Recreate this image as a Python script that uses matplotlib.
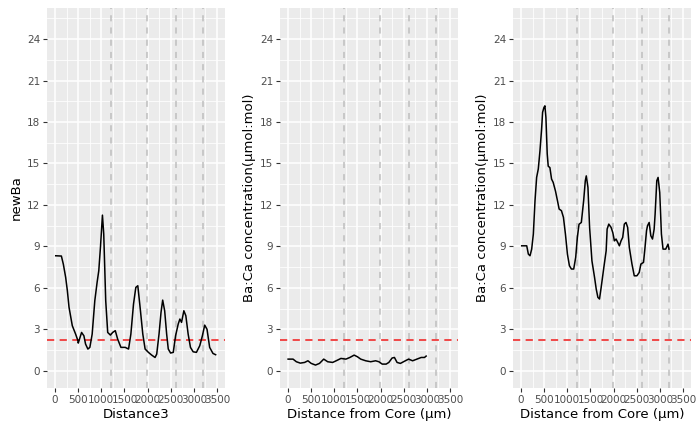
import matplotlib
matplotlib.use('Agg')
import matplotlib.pyplot as plt
import numpy as np

# panel 1: Distance3 vs newBa
d1 = [14, 136, 179, 229, 265, 301, 372, 444, 494, 501, 573, 623, 659, 709, 752, 802, 859, 909, 945,
      981, 1024, 1052, 1095, 1138, 1196, 1245, 1302, 1353, 1424, 1517, 1589, 1639, 1696, 1746, 1789,
      1839, 1897, 1947, 2018, 2090, 2162, 2198, 2248, 2291, 2327, 2370, 2413, 2448, 2498, 2556, 2606,
      2663, 2699, 2735, 2785, 2828, 2878, 2928, 2986, 3057, 3129, 3186, 3236, 3286, 3343, 3415, 3472]
ba1 = [8.32, 8.3, 7.7, 6.75, 5.8, 4.6, 3.26, 2.65, 2.17, 2.0, 2.77, 2.53, 1.93, 1.57, 1.69, 2.65, 5.07,
       6.4, 7.24, 8.92, 11.26, 9.9, 5.07, 2.77, 2.58, 2.77, 2.9, 2.29, 1.69, 1.69, 1.57, 2.65, 4.82, 6.03,
       6.15, 4.58, 2.65, 1.57, 1.33, 1.13, 0.96, 1.2, 2.65, 4.22, 5.11, 4.34, 2.65, 1.57, 1.28, 1.33,
       2.53, 3.38, 3.74, 3.5, 4.34, 3.98, 2.65, 1.69, 1.37, 1.33, 1.81, 2.53, 3.3, 3.0, 1.69, 1.25, 1.16]

# panel 2
d2 = [0, 107, 179, 264, 357, 429, 500, 593, 679, 771, 857, 964, 1071, 1143, 1250, 1336, 1429, 1500,
      1571, 1679, 1786, 1893, 1964, 2036, 2121, 2179, 2250, 2300, 2357, 2429, 2536, 2607, 2693, 2786,
      2879, 2950, 2986]
ba2 = [0.84, 0.84, 0.65, 0.55, 0.6, 0.72, 0.53, 0.41, 0.53, 0.84, 0.65, 0.6, 0.77, 0.89, 0.84, 0.96,
       1.13, 1.01, 0.84, 0.72, 0.65, 0.72, 0.65, 0.48, 0.48, 0.6, 0.92, 0.96, 0.6, 0.53, 0.72, 0.84,
       0.72, 0.84, 0.96, 0.96, 1.06]

# panel 3
d3 = [14, 122, 157, 193, 229, 265, 301, 336, 372, 408, 444, 465, 494, 515, 537, 565, 587, 623, 659,
      694, 744, 787, 823, 873, 916, 959, 1002, 1045, 1088, 1138, 1181, 1217, 1253, 1303, 1353, 1389,
      1410, 1446, 1482, 1532, 1589, 1625, 1661, 1696, 1732, 1790, 1840, 1861, 1897, 1947, 1983, 2019,
      2054, 2090, 2126, 2162, 2198, 2233, 2269, 2305, 2341, 2398, 2448, 2505, 2555, 2591, 2648, 2677,
      2713, 2734, 2770, 2806, 2842, 2878, 2899, 2935, 2963, 2999, 3035, 3070, 3128, 3178, 3199]
ba3 = [9.04, 9.04, 8.44, 8.32, 8.8, 9.89, 12.3, 13.99, 14.6, 15.9, 17.5, 18.7, 19.05, 19.17, 18.33,
       15.7, 14.8, 14.7, 13.87, 13.63, 13.0, 12.3, 11.7, 11.58, 11.1, 9.89, 8.44, 7.6, 7.36, 7.36, 8.2,
       9.65, 10.6, 10.73, 12.3, 13.75, 14.1, 13.27, 10.37, 7.96, 6.75, 5.91, 5.31, 5.19, 6.03, 7.48,
       8.68, 10.25, 10.61, 10.37, 10.0, 9.4, 9.53, 9.29, 9.04, 9.4, 9.65, 10.61, 10.73, 10.37, 8.92,
       7.72, 6.87, 6.87, 7.11, 7.72, 7.84, 8.8, 10.13, 10.49, 10.73, 9.77, 9.53, 10.25, 11.34, 13.75,
       13.99, 12.9, 9.89, 8.8, 8.8, 9.16, 8.8]

vlines = [1200, 1980, 2620, 3200]
threshold = 2.25
xlabels = ['Distance3', 'Distance from Core (\u03bcm)', 'Distance from Core (\u03bcm)']
ylabels = ['newBa', 'Ba:Ca concentration(\u03bcmol:mol)', 'Ba:Ca concentration(\u03bcmol:mol)']

fig = plt.figure(figsize=(7, 4.32), dpi=100)
lefts = [47, 280, 513]
series = [(d1, ba1), (d2, ba2), (d3, ba3)]

for i, (x, y) in enumerate(series):
    ax = fig.add_axes([lefts[i] / 700, 44 / 432, 178 / 700, 380 / 432])
    ax.set_facecolor('#EBEBEB')
    ax.set_xlim(-175, 3675)
    ax.set_ylim(-1.25, 26.25)
    ax.set_xticks(np.arange(0, 3501, 500))
    ax.set_yticks(np.arange(0, 25, 3))
    ax.set_xticks(np.arange(250, 3600, 500), minor=True)
    ax.set_yticks(np.arange(1.5, 26, 3), minor=True)
    ax.grid(which='major', color='white', linewidth=1.1)
    ax.grid(which='minor', color='white', linewidth=0.55)
    ax.set_axisbelow(True)
    for s in ax.spines.values():
        s.set_visible(False)
    ax.tick_params(which='major', length=3, width=0.8, color='#333333',
                   labelcolor='#4D4D4D', labelsize=7.5, pad=2)
    ax.tick_params(which='minor', length=0)
    for v in vlines:
        ax.axvline(v, color='#BEBEBE', linestyle=(0, (4, 4)), linewidth=1.1)
    ax.axhline(threshold, color='#F03A3A', linestyle=(0, (4, 3)), linewidth=1.3)
    ax.plot(x, y, color='black', linewidth=1.1)
    ax.set_xlabel(xlabels[i], fontsize=9.5, labelpad=2)
    ax.set_ylabel(ylabels[i], fontsize=9.5, labelpad=3)

fig.savefig('out.png', dpi=100)
